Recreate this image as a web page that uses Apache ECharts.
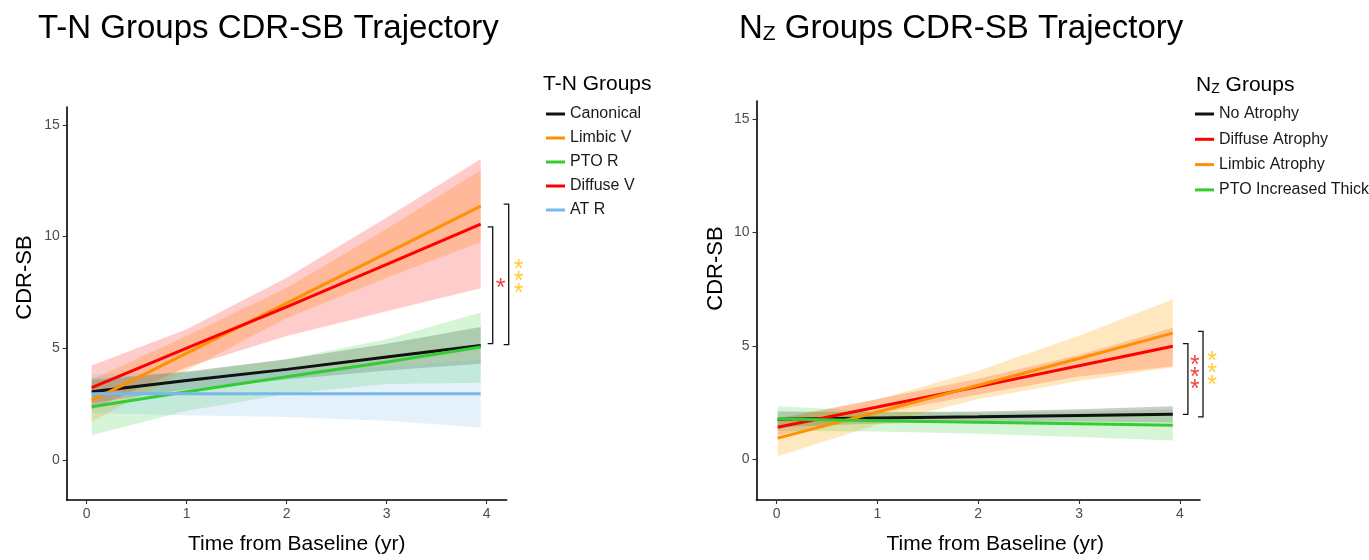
<!DOCTYPE html>
<html>
<head>
<meta charset="utf-8">
<script src="https://cdn.jsdelivr.net/npm/echarts@6/dist/echarts.min.js"></script>
<style>html,body{margin:0;padding:0;background:#fff}#c{width:1369px;height:560px}</style>
</head>
<body>
<div id="c"></div>
<script>
// ---------- Data ----------
const xTicks = [0, 1, 2, 3, 4];
const yTicks = [0, 5, 10, 15];

// Left panel: T-N groups
const tnTime = [0.05, 1, 2, 3, 3.94];
const tnCanonical   = [3.05, 3.55, 4.05, 4.6, 5.12];
const tnCanonicalLo = [2.55, 3.15, 3.6, 4.0, 4.3];
const tnCanonicalHi = [3.55, 3.95, 4.5, 5.2, 5.95];
const tnLimbic      = [2.65, 4.78, 7.02, 9.26, 11.36];
const tnLimbicLo    = [1.7, 4.0, 6.35, 8.15, 9.75];
const tnLimbicHi    = [3.6, 5.55, 7.7, 10.35, 12.98];
const tnPto         = [2.38, 3.05, 3.72, 4.38, 5.05];
const tnPtoLo       = [1.1, 2.2, 2.95, 3.4, 3.45];
const tnPtoHi       = [3.65, 3.9, 4.5, 5.4, 6.6];
const tnDiffuse     = [3.23, 5.0, 6.85, 8.75, 10.55];
const tnDiffuseLo   = [2.25, 4.15, 5.55, 6.65, 7.68];
const tnDiffuseHi   = [4.22, 5.85, 8.15, 10.85, 13.47];
const tnAtr         = [2.96, 2.96, 2.96, 2.96, 2.96];
const tnAtrLo       = [2.1, 2.0, 1.92, 1.75, 1.45];
const tnAtrHi       = [3.82, 3.92, 4.0, 4.17, 4.47];
const tnNames = ['Canonical', 'Limbic V', 'PTO R', 'Diffuse V', 'AT R'];
// significance brackets (x, top, bottom) and stars (x, y, text)
const tnBracketX = [4.06, 4.22];
const tnBracketTop = [10.43, 11.45];
const tnBracketBottom = [5.2, 5.16];
const tnStarX = [4.14, 4.32];
const tnStarY = [7.95, 8.26];
const tnStarText = ['*', '***'];

// Right panel: Nz groups
const nzTime = [0.01, 1, 2, 3, 3.93];
const nzNone      = [1.76, 1.82, 1.87, 1.93, 1.98];
const nzNoneLo    = [1.42, 1.57, 1.64, 1.66, 1.62];
const nzNoneHi    = [2.1, 2.07, 2.1, 2.2, 2.34];
const nzDiffuse   = [1.41, 2.3, 3.2, 4.12, 4.98];
const nzDiffuseLo = [1.05, 2.0, 2.85, 3.65, 4.1];
const nzDiffuseHi = [1.8, 2.65, 3.55, 4.6, 5.8];
const nzLimbic    = [0.93, 2.08, 3.26, 4.44, 5.56];
const nzLimbicLo  = [0.13, 1.53, 2.65, 3.45, 4.06];
const nzLimbicHi  = [1.73, 2.63, 3.9, 5.45, 7.06];
const nzPto       = [1.77, 1.7, 1.63, 1.56, 1.5];
const nzPtoLo     = [1.25, 1.22, 1.12, 0.98, 0.82];
const nzPtoHi     = [2.34, 2.1, 2.05, 2.1, 2.2];
const nzNames = ['No Atrophy', 'Diffuse Atrophy', 'Limbic Atrophy', 'PTO Increased Thickness'];
const nzBracketX = [4.08, 4.23];
const nzBracketTop = [5.1, 5.64];
const nzBracketBottom = [1.98, 1.87];
const nzStarX = [4.15, 4.32];
const nzStarY = [3.88, 4.06];
const nzStarText = ['***', '***'];

// ---------- Styling ----------
const FONT = "'Liberation Sans', Arial, sans-serif";
const C_BLACK = '#111111', C_ORANGE = '#FF9000', C_GREEN = '#32CD32', C_RED = '#FF0000', C_BLUE = '#76B9EA';
const BAND_BLACK = 'rgba(0,0,0,0.2)', BAND_ORANGE = 'rgba(255,165,0,0.25)', BAND_GREEN = 'rgba(50,205,50,0.2)',
      BAND_RED = 'rgba(255,0,0,0.2)', BAND_BLUE = 'rgba(118,185,234,0.2)';
const STAR_RED = '#EE1111', STAR_ORANGE = '#FFBF00';

function band(name, xs, lo, hi, fill, gi) {
  return {
    name: name + ' CI', type: 'custom', xAxisIndex: gi, yAxisIndex: gi, silent: true,
    data: xs.map((x, i) => [x, lo[i], hi[i]]),
    encode: { x: 0, y: [1, 2] },
    renderItem: function (params, api) {
      if (params.dataIndex !== 0) return null;
      const pts = [];
      for (let i = 0; i < xs.length; i++) pts.push(api.coord([xs[i], hi[i]]));
      for (let i = xs.length - 1; i >= 0; i--) pts.push(api.coord([xs[i], lo[i]]));
      return { type: 'polygon', shape: { points: pts }, style: { fill: fill, stroke: null } };
    }
  };
}
function line(name, xs, ys, color, gi) {
  return {
    name: name, type: 'line', xAxisIndex: gi, yAxisIndex: gi, showSymbol: false, symbol: 'none',
    data: xs.map((x, i) => [x, ys[i]]),
    lineStyle: { color: color, width: 3 }, itemStyle: { color: color }
  };
}
function brackets(bx, top, bottom, gi) {
  return {
    name: 'brackets' + gi, type: 'custom', xAxisIndex: gi, yAxisIndex: gi, clip: false, silent: true, z: 5,
    data: bx.map((x, i) => [x, top[i], bottom[i]]),
    encode: { x: 0, y: [1, 2] },
    renderItem: function (params, api) {
      const x = api.value(0), t = api.value(1), b = api.value(2);
      const p1 = api.coord([x, t]), p2 = api.coord([x, b]);
      const tick = 5;
      return {
        type: 'polyline',
        shape: { points: [[p1[0] - tick, p1[1]], p1, p2, [p2[0] - tick, p2[1]]] },
        style: { stroke: '#111', lineWidth: 1.3, fill: null }
      };
    }
  };
}
function stars(sx, sy, txt, colors, gi) {
  return sx.map((x, i) => ({
    name: 'stars' + gi + '_' + i, type: 'scatter', xAxisIndex: gi, yAxisIndex: gi, clip: false, silent: true,
    symbolSize: 1, itemStyle: { color: 'rgba(0,0,0,0)' }, z: 5,
    data: [[x, sy[i]]],
    label: {
      show: true, position: 'inside', formatter: txt[i].split('').join('\n'),
      color: colors[i], fontSize: 25, lineHeight: 12, fontFamily: FONT, offset: [0, 7]
    }
  }));
}

function xAxisCfg(gi, namePad) {
  return {
    gridIndex: gi, type: 'value', min: -0.2, max: 4.2,
    axisLine: { show: true, onZero: false, lineStyle: { color: '#000', width: 1.6 } },
    axisTick: { show: true, customValues: xTicks, length: 4, lineStyle: { color: '#333', width: 1.1 } },
    axisLabel: { customValues: xTicks, color: '#4d4d4d', fontSize: 14, margin: 7, fontFamily: FONT },
    splitLine: { show: false },
    name: 'Time from Baseline (yr)', nameLocation: 'middle', nameGap: 34,
    nameTextStyle: { color: '#000', fontSize: 21, fontFamily: FONT, padding: namePad }
  };
}
function yAxisCfg(gi, nameGap, namePad) {
  return {
    gridIndex: gi, type: 'value', min: -1.8, max: 15.8,
    axisLine: { show: true, onZero: false, lineStyle: { color: '#000', width: 1.6 } },
    axisTick: { show: true, customValues: yTicks, length: 4, lineStyle: { color: '#333', width: 1.1 } },
    axisLabel: { customValues: yTicks, color: '#4d4d4d', fontSize: 14, margin: 7, fontFamily: FONT },
    splitLine: { show: false },
    name: 'CDR-SB', nameLocation: 'middle', nameGap: nameGap,
    nameTextStyle: { color: '#000', fontSize: 22, fontFamily: FONT, padding: namePad }
  };
}

const series = [
  band(tnNames[0], tnTime, tnCanonicalLo, tnCanonicalHi, BAND_BLACK, 0),
  line(tnNames[0], tnTime, tnCanonical, C_BLACK, 0),
  band(tnNames[1], tnTime, tnLimbicLo, tnLimbicHi, BAND_ORANGE, 0),
  line(tnNames[1], tnTime, tnLimbic, C_ORANGE, 0),
  band(tnNames[2], tnTime, tnPtoLo, tnPtoHi, BAND_GREEN, 0),
  line(tnNames[2], tnTime, tnPto, C_GREEN, 0),
  band(tnNames[3], tnTime, tnDiffuseLo, tnDiffuseHi, BAND_RED, 0),
  line(tnNames[3], tnTime, tnDiffuse, C_RED, 0),
  band(tnNames[4], tnTime, tnAtrLo, tnAtrHi, BAND_BLUE, 0),
  line(tnNames[4], tnTime, tnAtr, C_BLUE, 0),
  brackets(tnBracketX, tnBracketTop, tnBracketBottom, 0),
  ...stars(tnStarX, tnStarY, tnStarText, [STAR_RED, STAR_ORANGE], 0),

  band(nzNames[0], nzTime, nzNoneLo, nzNoneHi, BAND_BLACK, 1),
  line(nzNames[0], nzTime, nzNone, C_BLACK, 1),
  band(nzNames[1], nzTime, nzDiffuseLo, nzDiffuseHi, BAND_RED, 1),
  line(nzNames[1], nzTime, nzDiffuse, C_RED, 1),
  band(nzNames[2], nzTime, nzLimbicLo, nzLimbicHi, BAND_ORANGE, 1),
  line(nzNames[2], nzTime, nzLimbic, C_ORANGE, 1),
  band(nzNames[3], nzTime, nzPtoLo, nzPtoHi, BAND_GREEN, 1),
  line(nzNames[3], nzTime, nzPto, C_GREEN, 1),
  brackets(nzBracketX, nzBracketTop, nzBracketBottom, 1),
  ...stars(nzStarX, nzStarY, nzStarText, [STAR_RED, STAR_ORANGE], 1)
];

const legendCommon = {
  orient: 'vertical', icon: 'rect', itemWidth: 19, itemHeight: 3, selectedMode: false, padding: 0,
  textStyle: { color: '#1a1a1a', fontSize: 16, fontFamily: FONT }
};

const chart = echarts.init(document.getElementById('c'), null, { renderer: 'canvas' });
chart.setOption({
  backgroundColor: '#ffffff',
  animation: false,
  title: [
    { text: 'T-N Groups CDR-SB Trajectory', left: 38, top: 12, padding: 0,
      textStyle: { fontSize: 33, fontWeight: 'normal', color: '#000', fontFamily: FONT } },
    { text: '{n|N}{z|Z}{g| Groups CDR-SB Trajectory}', left: 739, top: 12, padding: 0,
      textStyle: { fontWeight: 'normal', color: '#000', fontFamily: FONT,
        rich: { n: { fontSize: 33, fontFamily: FONT }, z: { fontSize: 21, verticalAlign: 'bottom', fontFamily: FONT },
                g: { fontSize: 33, fontFamily: FONT } } } },
    { text: 'T-N Groups', left: 543, top: 74, padding: 0,
      textStyle: { fontSize: 21, fontWeight: 'normal', color: '#000', fontFamily: FONT } },
    { text: '{n|N}{z|Z}{g| Groups}', left: 1196, top: 75, padding: 0,
      textStyle: { fontWeight: 'normal', color: '#000', fontFamily: FONT,
        rich: { n: { fontSize: 21, fontFamily: FONT }, z: { fontSize: 14, verticalAlign: 'bottom', fontFamily: FONT },
                g: { fontSize: 21, fontFamily: FONT } } } }
  ],
  legend: [
    Object.assign({}, legendCommon, { data: tnNames, left: 546, top: 106, itemGap: 8 }),
    Object.assign({}, legendCommon, { data: nzNames, left: 1195, top: 106, itemGap: 9.3 })
  ],
  grid: [
    { left: 66.7, top: 107, width: 440, height: 393 },
    { left: 756.5, top: 101, width: 443.5, height: 399 }
  ],
  xAxis: [xAxisCfg(0, [0, 0, 0, 20]), xAxisCfg(1, [0, 0, 0, 34])],
  yAxis: [yAxisCfg(0, 31, [0, 0, 0, 52]), yAxisCfg(1, 30, [0, 0, 0, 64])],
  series: series
});
</script>
</body>
</html>
